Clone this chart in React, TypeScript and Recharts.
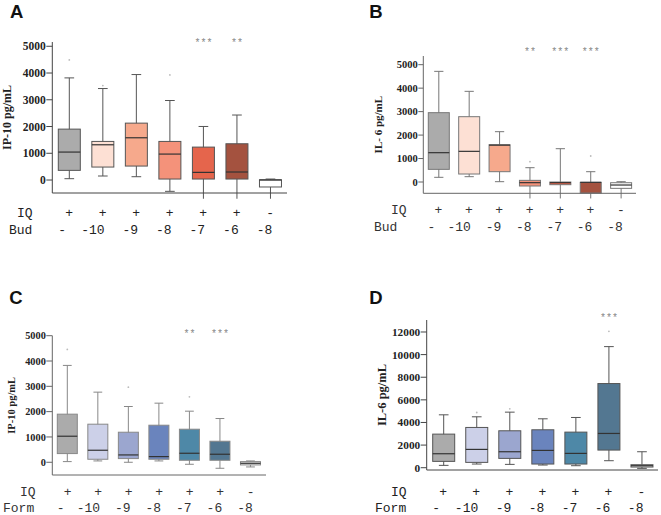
import React from "react";
import { ComposedChart, Bar, XAxis, YAxis, Label } from "recharts";

// five-number summaries per box: [lower whisker, q1, median, q3, upper whisker]
type Five = [number, number, number, number, number];

const iqFlags = ["+", "+", "+", "+", "+", "+", "-"];
const budDoses = ["-", "-10", "-9", "-8", "-7", "-6", "-8"];
const formDoses = ["-", "-10", "-9", "-8", "-7", "-6", "-8"];

const ip10Bud: Five[] = [
  [50, 361, 1045, 1903, 3818],
  [150, 485, 1318, 1443, 3420],
  [124, 522, 1580, 2127, 3943],
  [-423, 37, 970, 1443, 2973],
  [-700, 37, 286, 1231, 2002],
  [-700, 37, 300, 1356, 2430],
  [-700, -260, 0, 10, 37],
];
const ip10BudOutliers = [4490, 3530, null, 3930, null, null, null];
const ip10BudStars = ["", "", "", "", "***", "**", ""];

const il6Bud: Five[] = [
  [200, 540, 1250, 2955, 4716],
  [227, 341, 1307, 2784, 3864],
  [14, 440, 1570, 1590, 2145],
  [-700, -170, -28, 71, 610],
  [-700, -114, -28, 0, 1420],
  [-700, -470, -14, -14, 440],
  [-700, -270, -128, -30, 14],
];
const il6BudOutliers = [null, null, null, 866, null, 1108, null];
const il6BudStars = ["", "", "", "**", "***", "***", ""];

const ip10Form: Five[] = [
  [26, 343, 1029, 1900, 3826],
  [53, 119, 475, 1504, 2770],
  [0, 145, 290, 1187, 2203],
  [53, 119, 224, 1464, 2335],
  [-79, 79, 356, 1306, 2018],
  [-237, 79, 317, 831, 1728],
  [-185, -105, -40, 26, 53],
];
const ip10FormOutliers = [4459, null, 2968, null, 2585, null, null];
const ip10FormStars = ["", "", "", "", "**", "***", ""];

const il6Form: Five[] = [
  [206, 559, 1235, 2970, 4676],
  [324, 471, 1618, 3559, 4500],
  [294, 824, 1412, 3265, 4912],
  [235, 324, 1529, 3353, 4324],
  [176, 324, 1265, 3147, 4441],
  [618, 1559, 3029, 7441, 10706],
  [-59, 59, 176, 265, 1412],
];
const il6FormOutliers = [null, 4882, 5206, null, null, 12059, null];
const il6FormStars = ["", "", "", "", "", "***", ""];

const budColors = ["#ababab", "#fde0d4", "#f6a98c", "#f4927a", "#e5654c", "#a4523f", "#ffffff"];
const formColors = ["#ababab", "#ccd0e8", "#9ba6cf", "#6a84bd", "#4e88a7", "#537791", "#eeeeee"];

const MONO = "'Liberation Mono', 'DejaVu Sans Mono', monospace";
const SERIF = "'Liberation Serif', 'DejaVu Serif', serif";

type Panel = {
  left: number;
  top: number;
  width: number;
  height: number;
  margin: { top: number; right: number; bottom: number; left: number };
  yWidth: number;
  xHeight: number;
  domain: [number, number];
  ticks: number[];
  tickFont: number;
  tickSize: number;
  label: string;
  labelFont: number;
  labelX: number;
  barSize: number;
  boxes: Five[];
  outliers: (number | null)[];
  stars: string[];
  colors: string[];
  doses: string[];
  rowName: string;
  iqX: number;
  rowX: number;
  row1: number;
  row2: number;
  starY: number;
  axisColor: string;
  lineColor: string;
  textColor: string;
};

function BoxPanel({ p }: { p: Panel }) {
  // the bar spans only the visible part; whiskers that run past the axis are extended in the shape
  const data = p.boxes.map((b, i) => ({
    key: i,
    range: [Math.max(b[0], p.domain[0]), b[4]],
    box: b,
    outlier: p.outliers[i],
    star: p.stars[i],
  }));
  const plotBottom = p.height - p.margin.bottom - p.xHeight;
  const plotMid = (p.margin.top + plotBottom) / 2;

  const shape = (props: any) => {
    const { x, y, width, height, payload, index } = props;
    const [lo, q1, med, q3, hi] = payload.box as Five;
    const r0 = payload.range[0];
    const py = (v: number) => y + (height * (hi - v)) / (hi - r0);
    const cx = x + width / 2;
    const cap = width * 0.22;
    return (
      <g>
        <line x1={cx} x2={cx} y1={py(hi)} y2={py(lo)} stroke={p.lineColor} strokeWidth={1} />
        <line x1={cx - cap} x2={cx + cap} y1={py(hi)} y2={py(hi)} stroke={p.lineColor} strokeWidth={1} />
        {lo >= p.domain[0] && (
          <line x1={cx - cap} x2={cx + cap} y1={py(lo)} y2={py(lo)} stroke={p.lineColor} strokeWidth={1} />
        )}
        <rect
          x={x}
          y={py(q3)}
          width={width}
          height={Math.max(py(q1) - py(q3), 1)}
          fill={p.colors[index]}
          stroke={p.lineColor}
          strokeWidth={1}
        />
        <line x1={x} x2={x + width} y1={py(med)} y2={py(med)} stroke="#333" strokeWidth={1.2} />
        {payload.outlier != null && <circle cx={cx} cy={py(payload.outlier)} r={0.9} fill="#bbb" />}
        {payload.star && (
          <text x={cx} y={p.starY} textAnchor="middle" fontFamily={MONO} fontSize={10} fill="#888">
            {payload.star}
          </text>
        )}
      </g>
    );
  };

  const xTick = (props: any) => {
    const { x, y, payload } = props;
    const i = payload.value as number;
    const axisY = y - 5;
    const dose = p.doses[i];
    const single = dose.length === 1;
    return (
      <g fontFamily={MONO} fontSize={13} fill={p.textColor}>
        <text x={x} y={axisY + p.row1} textAnchor="middle" dominantBaseline="central">
          {iqFlags[i]}
        </text>
        <text
          x={single ? x - 7 : x + 2}
          y={axisY + p.row2}
          textAnchor={single ? "middle" : "end"}
          dominantBaseline="central"
        >
          {dose}
        </text>
        {i === 0 && (
          <>
            <text x={p.iqX} y={axisY + p.row1} dominantBaseline="central">
              IQ
            </text>
            <text x={p.rowX} y={axisY + p.row2} dominantBaseline="central">
              {p.rowName}
            </text>
          </>
        )}
      </g>
    );
  };

  return (
    <div style={{ position: "absolute", left: p.left, top: p.top }}>
      <ComposedChart width={p.width} height={p.height} data={data} margin={p.margin}>
        <XAxis
          dataKey="key"
          type="category"
          interval={0}
          height={p.xHeight}
          tickSize={5}
          tickMargin={0}
          tickLine={false}
          stroke={p.axisColor}
          tick={xTick}
        />
        <YAxis
          type="number"
          domain={p.domain}
          ticks={p.ticks}
          width={p.yWidth}
          tickSize={p.tickSize}
          tickMargin={0.5}
          stroke={p.axisColor}
          tick={{ fontFamily: SERIF, fontWeight: 700, fontSize: p.tickFont, fill: "#222" }}
        >
          <Label
            content={() => (
              <text
                x={p.labelX}
                y={plotMid}
                transform={`rotate(-90, ${p.labelX}, ${plotMid})`}
                textAnchor="middle"
                dominantBaseline="central"
                fontFamily={SERIF}
                fontWeight={700}
                fontSize={p.labelFont}
                fill="#222"
              >
                {p.label}
              </text>
            )}
          />
        </YAxis>
        <Bar dataKey={(d: any) => d.range} barSize={p.barSize} shape={shape} isAnimationActive={false} />
      </ComposedChart>
    </div>
  );
}

const k5 = [0, 1000, 2000, 3000, 4000, 5000];

const panels: Panel[] = [
  {
    left: 0, top: 0, width: 330, height: 257,
    margin: { top: 42, right: 43, bottom: 4, left: 0 },
    yWidth: 52.3, xHeight: 60, domain: [-485, 5160], ticks: k5,
    tickFont: 11.5, tickSize: 6, label: "IP-10 pg/mL", labelFont: 12, labelX: 7,
    barSize: 22, boxes: ip10Bud, outliers: ip10BudOutliers, stars: ip10BudStars,
    colors: budColors, doses: budDoses, rowName: "Bud", iqX: 17, rowX: 9,
    row1: 20, row2: 37, starY: 46, axisColor: "#444", lineColor: "#555", textColor: "#222",
  },
  {
    left: 330, top: 0, width: 331, height: 257,
    margin: { top: 56, right: 25, bottom: 3.7, left: 0 },
    yWidth: 93.3, xHeight: 60, domain: [-481, 5370], ticks: k5,
    tickFont: 10.5, tickSize: 5, label: "IL- 6 pg/mL", labelFont: 11, labelX: 48.3,
    barSize: 21, boxes: il6Bud, outliers: il6BudOutliers, stars: il6BudStars,
    colors: budColors, doses: budDoses, rowName: "Bud", iqX: 61, rowX: 44,
    row1: 17.4, row2: 34, starY: 55, axisColor: "#666", lineColor: "#777", textColor: "#333",
  },
  {
    left: 0, top: 257, width: 330, height: 258,
    margin: { top: 78.7, right: 64, bottom: 0, left: 0 },
    yWidth: 52.3, xHeight: 40, domain: [-503, 5000], ticks: k5,
    tickFont: 10.3, tickSize: 6, label: "IP-10 pg/mL", labelFont: 10.5, labelX: 11.7,
    barSize: 20, boxes: ip10Form, outliers: ip10FormOutliers, stars: ip10FormStars,
    colors: formColors, doses: formDoses, rowName: "Form", iqX: 20, rowX: 3,
    row1: 17.7, row2: 33.3, starY: 80, axisColor: "#666", lineColor: "#888", textColor: "#333",
  },
  {
    left: 330, top: 257, width: 331, height: 258,
    margin: { top: 63, right: 3, bottom: 0, left: 0 },
    yWidth: 96.7, xHeight: 45, domain: [-203, 13060], ticks: [0, 2000, 4000, 6000, 8000, 10000, 12000],
    tickFont: 11.3, tickSize: 6, label: "IL-6 pg/mL", labelFont: 12.5, labelX: 51.7,
    barSize: 22, boxes: il6Form, outliers: il6FormOutliers, stars: il6FormStars,
    colors: formColors, doses: formDoses, rowName: "Form", iqX: 61, rowX: 45,
    row1: 22.3, row2: 38.3, starY: 64, axisColor: "#444", lineColor: "#555", textColor: "#222",
  },
];

const letters = [
  { t: "A", x: 10, y: 18.3 },
  { t: "B", x: 369.3, y: 18.3 },
  { t: "C", x: 9.3, y: 304.3 },
  { t: "D", x: 369.3, y: 304.3 },
];

export default function App() {
  return (
    <div style={{ position: "absolute", left: 0, top: 0, width: 661, height: 515, background: "#fff" }}>
      {panels.map((p, i) => (
        <BoxPanel key={i} p={p} />
      ))}
      <svg width={661} height={515} style={{ position: "absolute", left: 0, top: 0, pointerEvents: "none" }}>
        {letters.map((l) => (
          <text key={l.t} x={l.x} y={l.y} fontFamily="'Liberation Sans', Arial, sans-serif" fontWeight={700} fontSize={18.5} fill="#111">
            {l.t}
          </text>
        ))}
      </svg>
    </div>
  );
}
